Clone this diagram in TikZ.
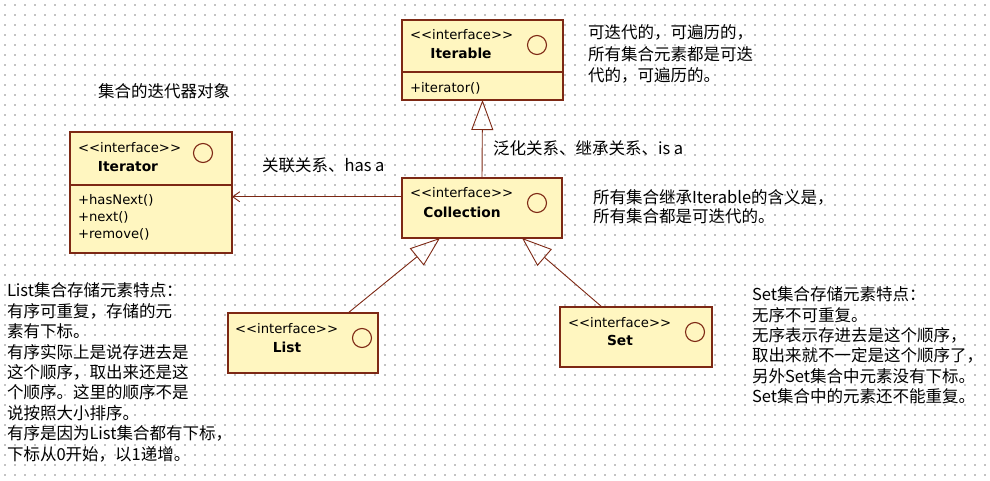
\documentclass[tikz,border=0pt]{standalone}
\usepackage{fontspec}
\usepackage{tikz}
\usetikzlibrary{arrows.meta}
\newfontfamily\cjk{Noto Sans CJK SC}
\newfontfamily\umlfont{DejaVu Sans}
\definecolor{umlline}{RGB}{125,40,20}
\definecolor{umlfill}{RGB}{255,246,192}
\definecolor{griddot}{RGB}{195,195,195}

\begin{document}
\begin{tikzpicture}[x=1pt, y=-1pt,
	every node/.style={inner sep=0pt, outer sep=0pt},
	ibox/.style={rectangle, draw=umlline, fill=umlfill, line width=1.5pt},
	icon/.style={circle, draw=umlline, line width=1.1pt, minimum size=19pt},
	stereo/.style={anchor=west, font=\umlfont\fontsize{13.2}{14}\selectfont},
	iname/.style={font=\umlfont\bfseries\fontsize{13.8}{15}\selectfont},
	op/.style={anchor=west, font=\umlfont\fontsize{13.2}{14}\selectfont},
	label/.style={anchor=west, font=\cjk\fontsize{16.5}{20}\selectfont},
	note/.style={anchor=north west, align=left, font=\cjk\fontsize{16.5}{20.4}\selectfont},
	gen/.style={draw=umlline, line width=0.9pt, -{Triangle[open, length=30pt, width=22pt]}},
	assoc/.style={draw=umlline, line width=0.9pt, -{Straight Barb[length=7pt, width=10pt]}}]
	\useasboundingbox (0,0) rectangle (990,481);
	\fill[white] (0,0) rectangle (990,481);
	\foreach \gy in {5,15,...,475}
		\draw[griddot, line width=1.2pt, dash pattern=on 1.2pt off 8.8pt] (4.4,\gy) -- (990,\gy);

	\node[ibox, minimum width=161, minimum height=80]  (iterable)   at (482.5,60)  {};
	\node[ibox, minimum width=162, minimum height=121] (iterator)   at (151,192.5) {};
	\node[ibox, minimum width=160, minimum height=60]  (collection) at (482,208)   {};
	\node[ibox, minimum width=150, minimum height=60]  (list)       at (303,343)   {};
	\node[ibox, minimum width=152, minimum height=60]  (set)        at (636,337)   {};

	\draw[umlline, line width=1.2pt] (iterable.west |- 0,72) -- (iterable.east |- 0,72);
	\draw[umlline, line width=1.2pt] (iterator.west |- 0,185) -- (iterator.east |- 0,185);

	\node[stereo] (iterable-s) at (410,35) {<<interface>>};
	\node[iname]  (iterable-n) at (461,53) {Iterable};
	\node[icon]   (iterable-c) at (537,45) {};
	\node[op]     (iterable-o) at (410,88) {+iterator()};

	\node[stereo] (iterator-s) at (78,148) {<<interface>>};
	\node[iname]  (iterator-n) at (128,167) {Iterator};
	\node[icon]   (iterator-c) at (203,153) {};
	\node[op]     (iterator-o1) at (78,200) {+hasNext()};
	\node[op]     (iterator-o2) at (78,217) {+next()};
	\node[op]     (iterator-o3) at (78,234) {+remove()};

	\node[stereo] (collection-s) at (410,193) {<<interface>>};
	\node[iname]  (collection-n) at (462,212) {Collection};
	\node[icon]   (collection-c) at (537,203) {};

	\node[stereo] (list-s) at (235,329) {<<interface>>};
	\node[iname]  (list-n) at (287,347) {List};
	\node[icon]   (list-c) at (362,338) {};

	\node[stereo] (set-s) at (568,323) {<<interface>>};
	\node[iname]  (set-n) at (620,340) {Set};
	\node[icon]   (set-c) at (695,332) {};

	\draw[gen] (collection.north) -- (iterable.south);
	\draw[assoc] (collection.172) -- (collection.172 -| iterator.east);
	\draw[gen] ([xshift=-30]list.north east) -- ([xshift=38]collection.south west);
	\draw[gen] ([xshift=42]set.north west) -- ([xshift=-40]collection.south east);

	\node[label] (iter-label)  at (98,91)   {集合的迭代器对象};
	\node[label] (assoc-label) at (262,165) {关联关系、has a};
	\node[label] (gen-label)   at (493,148) {泛化关系、继承关系、is a};

	\node[note, font=\cjk\fontsize{16.5}{21.5}\selectfont] (iterable-note) at (588,25)
		{可迭代的，可遍历的，\\所有集合元素都是可迭\\代的，可遍历的。};
	\node[note, font=\cjk\fontsize{16.5}{19}\selectfont] (collection-note) at (593,190)
		{所有集合继承Iterable的含义是，\\所有集合都是可迭代的。};
	\node[note] (list-note) at (7,283)
		{List集合存储元素特点：\\有序可重复，存储的元\\素有下标。\\有序实际上是说存进去是\\这个顺序，取出来还是这\\个顺序。这里的顺序不是\\说按照大小排序。\\有序是因为List集合都有下标，\\下标从0开始，以1递增。};
	\node[note, font=\cjk\fontsize{16.5}{20.3}\selectfont] (set-note) at (752,287)
		{Set集合存储元素特点：\\无序不可重复。\\无序表示存进去是这个顺序，\\取出来就不一定是这个顺序了，\\另外Set集合中元素没有下标。\\Set集合中的元素还不能重复。};
\end{tikzpicture}
\end{document}
